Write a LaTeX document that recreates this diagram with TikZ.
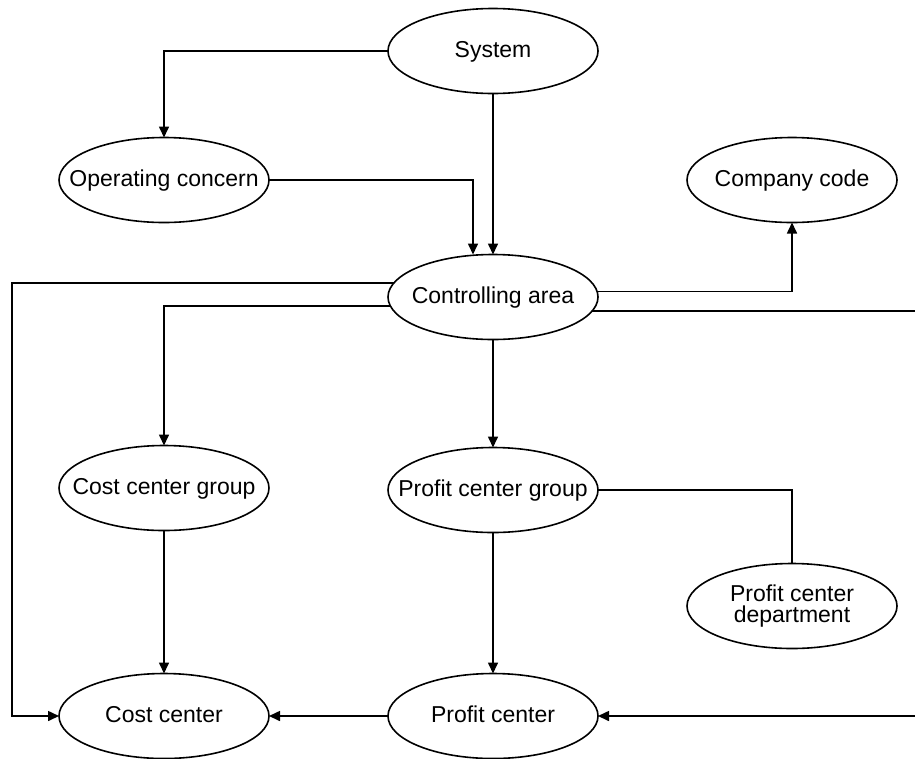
\documentclass[tikz,border=0pt]{standalone}
\usepackage{fontspec}
\setmainfont{Liberation Sans}
\usetikzlibrary{shapes.geometric,arrows.meta}
% zero-width label so every ellipse keeps the same fixed size
\newcommand{\entitytext}[1]{\makebox[0pt]{#1}}
\begin{document}
\begin{tikzpicture}[x=1pt,y=-1pt,
  entity/.style={ellipse, draw, line width=1.6pt, minimum width=210pt,
    minimum height=85pt, inner sep=0pt, outer sep=0pt,
    font=\fontsize{23}{21.5}\selectfont, text height=16.5pt, text depth=4.5pt},
  link/.style={line width=1.6pt},
  flow/.style={link, -{Triangle[length=11pt,width=10pt]}}]
\useasboundingbox (0,0) rectangle (915,758);

% organisational units
\node[entity] (sys)  at (493,51)  {\entitytext{System}};
\node[entity] (oc)   at (164,180) {\entitytext{Operating concern}};
\node[entity] (cmp)  at (792,180) {\entitytext{Company code}};
\node[entity] (ca)   at (493,297) {\entitytext{Controlling area}};
\node[entity] (ccg)  at (164,488) {\entitytext{Cost center group}};
\node[entity] (pcg)  at (493,490) {\entitytext{Profit center group}};
\node[entity, align=center, text height=, text depth=] (dept) at (792,606)
  {Profit center\\department};
\node[entity] (cc)   at (164,716) {\entitytext{Cost center}};
\node[entity] (pc)   at (493,716) {\entitytext{Profit center}};

% guide coordinates for the outer routes
\coordinate (rim) at (915,0);
\coordinate (lft) at (12,0);

% connectors
\draw[flow] (sys.west) -| (oc.north);
\draw[flow] (sys.south) -- (ca.north);
\draw[flow] (oc.east) -| ([xshift=-20pt]ca.north);
\draw[flow] (ca.172.6) -| (lft |- cc.west) -- (cc.west);
\draw[flow] (ca.185.6) -| (ccg.north);
\draw[flow] (ca.3.0) -| (cmp.south);
\draw[link] (ca.352.6) -- (ca.352.6 -| rim);
\draw[flow] (ca.south) -- (pcg.north);
\draw[link] (pcg.east) -| (dept.north);
\draw[flow] (pcg.south) -- (pc.north);
\draw[flow] (ccg.south) -- (cc.north);
\draw[flow] (pc.west) -- (cc.east);
\draw[flow] (pc.east -| rim) -- (pc.east);
\end{tikzpicture}
\end{document}
